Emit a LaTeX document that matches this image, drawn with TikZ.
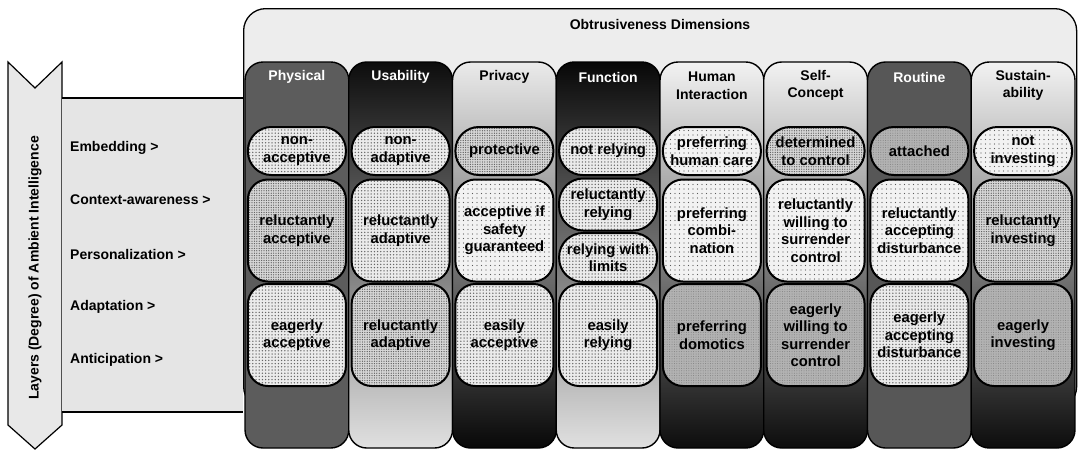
\documentclass[tikz,border=0pt]{standalone}
\usepackage{fontspec}
\setmainfont{Liberation Sans}
\usetikzlibrary{patterns.meta}

\newcommand{\cellfont}{\bfseries\fontsize{14.8}{17.5}\selectfont}
\newcommand{\headfont}{\bfseries\fontsize{14}{17.5}\selectfont}

\begin{document}
\begin{tikzpicture}[x=1pt,y=-1pt,
  colbox/.style={draw=black, line width=1.4pt, rounded corners=18pt,
    minimum width=103.75pt, minimum height=386pt, inner sep=0pt},
  head/.style={font=\headfont, align=center, inner sep=0pt},
  pill/.style={draw=black, line width=2pt, rounded corners=23.5pt,
    minimum width=98pt, minimum height=48pt, align=center, inner sep=0pt, font=\cellfont},
  halfpill/.style={pill, rounded corners=24pt, minimum height=50pt},
  bigcell/.style={draw=black, line width=2pt, rounded corners=20pt,
    minimum width=98pt, minimum height=102pt, align=center, inner sep=0pt, font=\cellfont},
  sparse/.style={preaction={fill=black!5}, pattern={Dots[distance=4.5pt, radius=0.7pt]}, pattern color=black!65},
  medium/.style={preaction={fill=black!8}, pattern={Dots[distance=3.2pt, radius=0.75pt]}, pattern color=black!60},
  dense/.style={preaction={fill=black!16}, pattern={Dots[distance=2.4pt, radius=0.65pt]}, pattern color=black!65},
  darkcell/.style={preaction={fill=black!30}, pattern={Dots[distance=2.4pt, radius=0.5pt]}, pattern color=black!50},
  rowlabel/.style={anchor=west, font=\bfseries\fontsize{14}{17}\selectfont, inner sep=0pt}
]
\useasboundingbox (0,0) rectangle (1078,450);

% left: downward arrow for the layers
\path[draw=black, line width=1.2pt, fill=black!9]
  (8,62) -- (35,88) -- (62,62) -- (62,425) -- (35,449) -- (8,425) -- cycle;
\node[rotate=90, font=\bfseries\fontsize{14}{17}\selectfont] (layers) at (35,268)
  {Layers (Degree) of Ambient Intelligence};

% panel with the layer names
\fill[black!10] (62,98) rectangle (243,412);
\draw[line width=1.5pt] (62,98) -- (243,98);
\draw[line width=1.5pt] (62,412) -- (243,412);
\node[rowlabel] (embedding) at (70,148) {Embedding >};
\node[rowlabel] (context) at (70,200) {Context-awareness >};
\node[rowlabel] (personal) at (70,254) {Personalization >};
\node[rowlabel] (adaptation) at (70,307) {Adaptation >};
\node[rowlabel] (anticipation) at (70,360) {Anticipation >};

% frame of the dimensions
\node[draw=black, line width=1.3pt, fill=black!7, rounded corners=22pt,
  minimum width=833pt, minimum height=400pt, anchor=north west, inner sep=0pt]
  (frame) at (243,8) {};
\node[head] (title) at (660,24) {Obtrusiveness Dimensions};

% dimension columns
\node[colbox, fill=black!64] (c1) at (296.9,255) {};
\node[colbox, top color=black!95, middle color=black!62, bottom color=black!12] (c2) at (400.6,255) {};
\node[colbox, top color=black!8, middle color=black!55, bottom color=black!97] (c3) at (504.4,255) {};
\node[colbox, top color=black!97, middle color=black!55, bottom color=black!12] (c4) at (608.1,255) {};
\node[colbox, top color=black!5, middle color=black!68, bottom color=black!95] (c5) at (711.9,255) {};
\node[colbox, top color=black!5, middle color=black!68, bottom color=black!95] (c6) at (815.6,255) {};
\node[colbox, fill=black!66] (c7) at (919.4,255) {};
\node[colbox, top color=black!5, middle color=black!68, bottom color=black!95] (c8) at (1023.1,255) {};

% column headings
\node[head, text=white] (h1) at (296.9,77) {Physical};
\node[head, text=white] (h2) at (400.6,77) {Usability};
\node[head] (h3) at (504.4,77) {Privacy};
\node[head, text=white] (h4) at (608.1,77) {Function};
\node[head] (h5) at (711.9,85.5) {Human\\Interaction};
\node[head] (h6) at (815.6,85.5) {Self-\\Concept};
\node[head, text=white] (h7) at (919.4,77) {Routine};
\node[head] (h8) at (1023.1,85.5) {Sustain-\\ability};

% embedding row
\node[pill, medium] (p1) at (296.9,151) {non-\\acceptive};
\node[pill, medium] (u1) at (400.6,151) {non-\\adaptive};
\node[pill, dense] (v1) at (504.4,151) {protective};
\node[pill, medium] (f1) at (608.1,151) {not relying};
\node[pill, sparse] (i1) at (711.9,151) {preferring\\human care};
\node[pill, dense] (s1) at (815.6,151) {determined\\to control};
\node[pill, darkcell] (r1) at (919.4,151) {attached};
\node[pill, sparse] (t1) at (1023.1,151) {not\\investing};

% context-awareness and personalization
\node[bigcell, dense] (p2) at (296.9,230.5) {reluctantly\\acceptive};
\node[bigcell, medium] (u2) at (400.6,230.5) {reluctantly\\adaptive};
\node[bigcell, sparse] (v2) at (504.4,230.5) {acceptive if\\safety\\guaranteed};
\node[halfpill, medium, minimum height=52pt] (f2) at (608.1,204.5) {reluctantly\\relying};
\node[halfpill, medium, minimum height=49pt] (f3) at (608.1,257.5) {relying with\\limits};
\node[bigcell, sparse] (i2) at (711.9,230.5) {preferring\\combi-\\nation};
\node[bigcell, sparse] (s2) at (815.6,230.5) {reluctantly\\willing to\\surrender\\control};
\node[bigcell, sparse] (r2) at (919.4,230.5) {reluctantly\\accepting\\disturbance};
\node[bigcell, dense] (t2) at (1023.1,230.5) {reluctantly\\investing};

% adaptation and anticipation
\node[bigcell, medium] (p3) at (296.9,335) {eagerly\\acceptive};
\node[bigcell, dense] (u3) at (400.6,335) {reluctantly\\adaptive};
\node[bigcell, medium] (v3) at (504.4,335) {easily\\acceptive};
\node[bigcell, medium] (f4) at (608.1,335) {easily\\relying};
\node[bigcell, darkcell] (i3) at (711.9,335) {preferring\\domotics};
\node[bigcell, darkcell] (s3) at (815.6,335) {eagerly\\willing to\\surrender\\control};
\node[bigcell, medium] (r3) at (919.4,335) {eagerly\\accepting\\disturbance};
\node[bigcell, darkcell] (t3) at (1023.1,335) {eagerly\\investing};
\end{tikzpicture}
\end{document}
